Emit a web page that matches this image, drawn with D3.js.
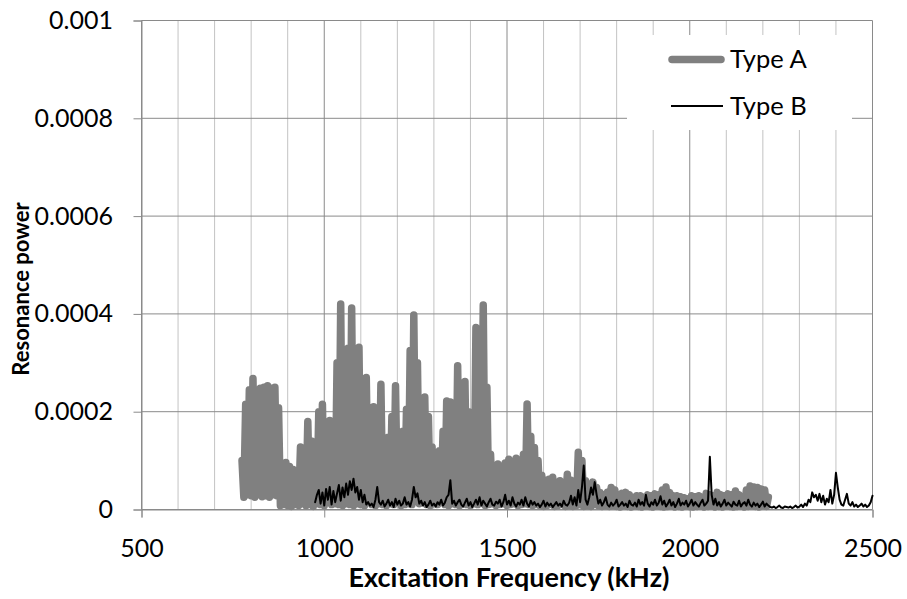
<!DOCTYPE html>
<html>
<head>
<meta charset="utf-8">
<script src="https://cdn.jsdelivr.net/npm/d3@7"></script>
<style>
  body { margin: 0; background: #fff; }
  text { font-family: Lato, "Open Sans", sans-serif; fill: #000; }
</style>
</head>
<body>
<svg id="chart" width="907" height="599"></svg>
<script>
// Resonance power spectra, values in units of 1e-6, sampled every 5 kHz
const freqStartA = 775, freqStepA = 5;
const typeA = [
  100,25, 215,30, 245,28, 268,25, 240,30, 248,26, 250,28, 253,25, 248,30, 250,28,
  208,8, 85,10, 96,8, 88,6, 82,10, 60,8, 128,12, 100,8, 180,10, 140,6,
  90,12, 200,10, 215,8, 175,15, 182,10, 150,12, 300,10, 420,8, 240,12, 330,10,
  412,8, 280,12, 332,10, 200,8, 270,15, 190,10, 210,8, 160,12, 256,10, 120,8,
  148,12, 190,10, 253,15, 140,8, 160,10, 205,12, 325,10, 398,45, 300,12, 200,40,
  230,10, 190,8, 128,12, 110,10, 120,15, 160,10, 222,8, 220,12, 200,10, 294,8,
  230,12, 262,10, 200,8, 168,12, 372,10, 300,15, 418,8, 250,10, 113,12, 90,8,
  93,10, 80,12, 95,8, 103,10, 90,12, 105,8, 100,10, 113,12, 216,10, 150,8,
  127,10, 100,8, 70,6, 60,8, 62,10, 66,6, 55,8, 59,10, 50,6, 72,8,
  60,6, 45,8, 117,10, 100,6, 59,8, 40,6, 56,10, 45,8, 35,6, 30,8,
  35,6, 45,8, 40,6, 30,5, 33,8, 35,6, 30,5, 25,8, 28,6, 28,5,
  25,8, 30,6, 28,5, 32,8, 30,6, 40,5, 46,6, 35,8, 28,5, 28,6,
  26,5, 24,8, 22,6, 28,5, 26,6, 28,8, 25,5, 33,6, 30,8, 28,5,
  35,6, 30,5, 28,8, 32,6, 30,5, 38,6, 30,8, 26,5, 40,6, 48,8,
  46,6, 45,5, 42,8, 40,6, 25
];

const freqStartB = 975, freqStepB = 5;
const typeB = [
  15, 30, 40, 12, 35, 8, 42, 20, 46, 10,
  38, 15, 33, 50, 18, 45, 25, 53, 30, 58,
  40, 63, 35, 46, 20, 40, 15, 30, 10, 15,
  8, 12, 5, 20, 46, 15, 10, 18, 6, 12,
  20, 8, 15, 5, 22, 10, 18, 8, 12, 25,
  10, 15, 6, 20, 46, 25, 33, 12, 18, 8,
  15, 5, 10, 18, 8, 12, 6, 15, 10, 20,
  8, 14, 25, 30, 60, 12, 18, 8, 15, 20,
  10, 6, 14, 22, 8, 15, 5, 12, 20, 10,
  25, 8, 18, 12, 6, 15, 22, 10, 8, 16,
  12, 20, 6, 15, 30, 10, 18, 8, 25, 12,
  6, 14, 10, 20, 8, 25, 12, 6, 18, 10,
  15, 8, 12, 5, 10, 18, 6, 14, 8, 12,
  5, 10, 15, 8, 12, 6, 18, 10, 8, 14,
  28, 10, 25, 8, 40, 15, 45, 90, 20, 10,
  25, 45, 30, 56, 31, 12, 20, 8, 15, 25,
  10, 6, 14, 8, 12, 20, 6, 10, 15, 8,
  12, 5, 18, 10, 8, 14, 6, 20, 10, 15,
  8, 30, 12, 6, 15, 10, 20, 8, 14, 27,
  10, 18, 6, 12, 20, 8, 15, 5, 12, 22,
  8, 14, 10, 18, 6, 12, 20, 8, 15, 10,
  6, 14, 20, 8, 12, 18, 108, 30, 10, 22,
  8, 15, 6, 12, 20, 8, 14, 10, 6, 16,
  10, 8, 18, 6, 12, 15, 8, 20, 10, 6,
  14, 8, 12, 5, 10, 16, 6, 12, 8, 5,
  4, 6, 3, 5, 8, 4, 3, 6, 5, 4,
  6, 3, 5, 8, 4, 6, 10, 5, 12, 8,
  20, 15, 35, 25, 30, 18, 32, 15, 28, 10,
  22, 15, 40, 12, 30, 75, 45, 20, 10, 8,
  20, 32, 12, 8, 15, 6, 10, 5, 8, 12,
  6, 10, 5, 8, 15, 28
];
const valueUnit = 1e-6;

const xTicks = [500, 1000, 1500, 2000, 2500];
const xTickLabels = ["500", "1000", "1500", "2000", "2500"];
const xMinorStep = 100;
const yTicks = [0, 0.0002, 0.0004, 0.0006, 0.0008, 0.001];
const yTickLabels = ["0", "0.0002", "0.0004", "0.0006", "0.0008", "0.001"];
const seriesNames = ["Type A", "Type B"];
const xTitle = "Excitation Frequency (kHz)";
const yTitle = "Resonance power";

const svg = d3.select("#chart");
const x = d3.scaleLinear().domain([500, 2500]).range([141.5, 872.5]);
const y = d3.scaleLinear().domain([0, 0.001]).range([509.5, 20.5]);

const majorColor = "#8a8a8a", minorColor = "#c3c3c3";
const tickFont = 25;

// minor vertical gridlines
const minorX = d3.range(500, 2501, xMinorStep).filter(v => !xTicks.includes(v));
svg.append("g").selectAll("line").data(minorX).join("line")
  .attr("x1", d => x(d)).attr("x2", d => x(d))
  .attr("y1", y(0)).attr("y2", y(0.001))
  .attr("stroke", minorColor).attr("stroke-width", 1);

// major vertical gridlines
svg.append("g").selectAll("line").data(xTicks).join("line")
  .attr("x1", d => x(d)).attr("x2", d => x(d))
  .attr("y1", y(0)).attr("y2", y(0.001))
  .attr("stroke", majorColor).attr("stroke-width", 1);

// horizontal gridlines
svg.append("g").selectAll("line").data(yTicks).join("line")
  .attr("x1", x(500)).attr("x2", x(2500))
  .attr("y1", d => y(d)).attr("y2", d => y(d))
  .attr("stroke", majorColor).attr("stroke-width", 1);

// axes
const xAxis = d3.axisBottom(x).tickValues(xTicks)
  .tickFormat((d, i) => xTickLabels[i]).tickSize(8);
const gx = svg.append("g").attr("transform", `translate(0,${y(0)})`).call(xAxis);
gx.select(".domain").attr("stroke", majorColor);
gx.selectAll(".tick line").attr("stroke", majorColor);
gx.selectAll(".tick text").attr("font-size", tickFont).attr("font-family", "Lato, sans-serif")
  .attr("fill", "#000").attr("y", 47.2).attr("dy", null);

const yAxis = d3.axisLeft(y).tickValues(yTicks)
  .tickFormat((d, i) => yTickLabels[i]).tickSize(8).tickPadding(20.5);
const gy = svg.append("g").attr("transform", `translate(${x(500)},0)`).call(yAxis);
gy.select(".domain").attr("stroke", majorColor);
gy.selectAll(".tick line").attr("stroke", majorColor);
gy.selectAll(".tick text").attr("font-size", tickFont).attr("font-family", "Lato, sans-serif").attr("fill", "#000");

// series
const lineA = d3.line()
  .x((d, i) => x(freqStartA + i * freqStepA))
  .y(d => y(d * valueUnit));
const lineB = d3.line()
  .x((d, i) => x(freqStartB + i * freqStepB))
  .y(d => y(d * valueUnit));

svg.append("path").datum(typeA)
  .attr("d", lineA).attr("fill", "none")
  .attr("stroke", "#808080").attr("stroke-width", 7.5)
  .attr("stroke-linejoin", "round").attr("stroke-linecap", "round");

svg.append("path").datum(typeB)
  .attr("d", lineB).attr("fill", "none")
  .attr("stroke", "#000").attr("stroke-width", 2)
  .attr("stroke-linejoin", "round").attr("stroke-linecap", "round");

// legend
const legend = svg.append("g");
legend.append("rect").attr("x", 627).attr("y", 35).attr("width", 225).attr("height", 95).attr("fill", "#fff");
const legendRows = [
  { name: seriesNames[0], y: 59.5, color: "#808080", width: 7.5, x1: 672, x2: 721 },
  { name: seriesNames[1], y: 106, color: "#000", width: 2, x1: 671, x2: 723 }
];
legendRows.forEach(r => {
  legend.append("line").attr("x1", r.x1).attr("x2", r.x2).attr("y1", r.y).attr("y2", r.y)
    .attr("stroke", r.color).attr("stroke-width", r.width).attr("stroke-linecap", r.width > 3 ? "round" : "butt");
  legend.append("text").attr("x", 730).attr("y", r.y).attr("dy", "0.35em")
    .attr("font-size", 25.5).text(r.name);
});

// axis titles
svg.append("text").attr("x", 509).attr("y", 587)
  .attr("text-anchor", "middle").attr("font-weight", "bold").attr("font-size", 27)
  .text(xTitle);
svg.append("text").attr("transform", "translate(21,289) rotate(-90)").attr("dy", "0.35em")
  .attr("text-anchor", "middle").attr("font-weight", "bold").attr("font-size", 22)
  .text(yTitle);
</script>
</body>
</html>
